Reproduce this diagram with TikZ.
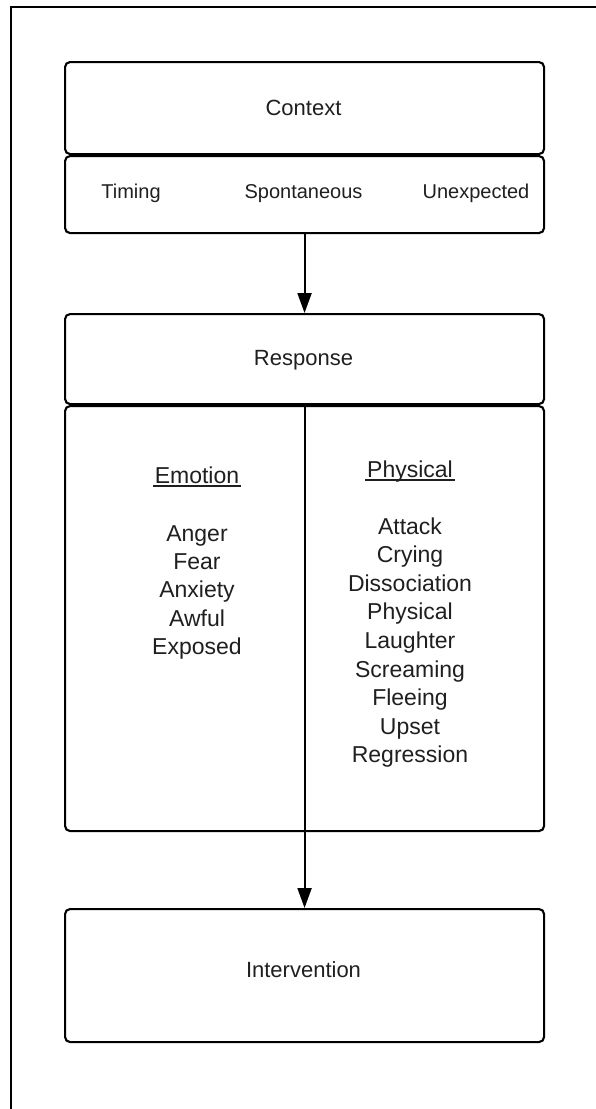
\documentclass[tikz,border=0pt]{standalone}
\usepackage{fontspec}
\setmainfont{Liberation Sans}
\usetikzlibrary{arrows.meta}
\begin{document}
\begin{tikzpicture}[x=1pt,y=-1pt,
  panel/.style={draw=black, line width=2.1pt, rounded corners=5pt, inner sep=0pt, anchor=north west, minimum width=479pt},
  flow/.style={draw=black, line width=2.1pt, -{Triangle[width=14pt,length=20pt]}},
  lbl/.style={anchor=base, inner sep=0pt, text=black!88},
  small/.style={lbl, font=\fontsize{20}{24}\selectfont},
  mid/.style={lbl, font=\fontsize{22}{26}\selectfont},
  big/.style={lbl, font=\fontsize{23}{28}\selectfont},
  rule/.style={draw=black!88, line width=1.5pt}]
\useasboundingbox (0,0) rectangle (595,1109);
% page frame
\draw[line width=1.8pt] (11,1115) -- (11,7) -- (600,7);

% panels
\node[panel, minimum height=92pt]  (context)      at (64,61)  {};
\node[panel, minimum height=77pt]  (cues)         at (64,155) {};
\node[panel, minimum height=90pt]  (response)     at (64,313) {};
\node[panel, minimum height=425pt] (reactions)    at (64,405) {};
\node[panel, minimum height=133pt] (intervention) at (64,908) {};

% connectors
\draw[flow] (cues.south) -- (response.north);
\draw[flow] (response.south) -- (intervention.north);

% panel titles
\node[mid] (ctxlbl) at (303.5,115) {Context};
\node[small] (timing) at (131,198) {Timing};
\node[small] (spont) at (303.5,198) {Spontaneous};
\node[small] (unexp) at (476,198) {Unexpected};
\node[mid] (resplbl) at (303.5,365) {Response};
\node[mid] (intlbl) at (303.5,977) {Intervention};

% emotional reactions
\node[big] (emohead) at (197,483) {Emotion};
\draw[rule] ([xshift=-1.5pt,yshift=-3pt]emohead.base west) -- ([xshift=1.5pt,yshift=-3pt]emohead.base east);
\foreach \w [count=\i] in {Anger,Fear,Anxiety,Awful,Exposed}
  \node[big] (emo\i) at (197,{541+28.4*(\i-1)}) {\w};

% physical reactions
\node[big] (phyhead) at (410,477) {Physical};
\draw[rule] ([xshift=-1.5pt,yshift=-3pt]phyhead.base west) -- ([xshift=1.5pt,yshift=-3pt]phyhead.base east);
\foreach \w [count=\i] in {Attack,Crying,Dissociation,Physical,Laughter,Screaming,Fleeing,Upset,Regression}
  \node[big] (phy\i) at (410,{534+28.6*(\i-1)}) {\w};
\end{tikzpicture}
\end{document}
